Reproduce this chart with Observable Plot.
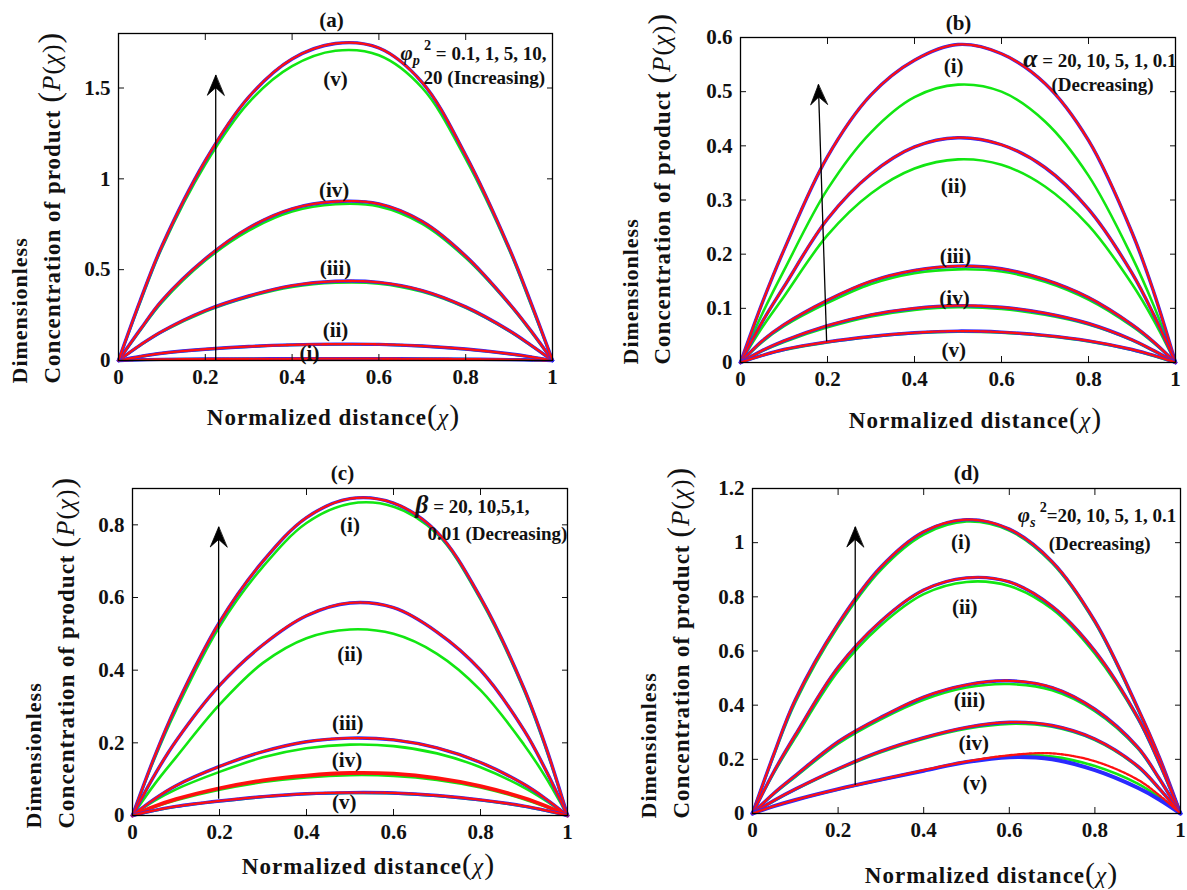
<!DOCTYPE html>
<html><head><meta charset="utf-8">
<script src="https://cdn.jsdelivr.net/npm/d3@7"></script>
<script src="https://cdn.jsdelivr.net/npm/@observablehq/plot@0.6"></script>
<style>
body{margin:0;background:#fff;}
#root{position:relative;width:1187px;height:890px;overflow:hidden;background:#fff;}
#root svg{position:absolute;overflow:visible;}
</style></head><body><div id="root"></div>
<script>
// ---------- shared data ----------
const xs = [0, 0.05, 0.1, 0.2, 0.3, 0.4, 0.5, 0.6, 0.7, 0.8, 0.9, 0.95, 1];
const romanLabels = ["(i)", "(ii)", "(iii)", "(iv)", "(v)"];
const xTicks = [0, 0.2, 0.4, 0.6, 0.8, 1];

// ---------- panel (a) ----------
const aTicksY = [0, 0.5, 1, 1.5];
const a1Num = [0, 0.004, 0.006, 0.008, 0.009, 0.0095, 0.01, 0.0098, 0.009, 0.0075, 0.005, 0.003, 0];
const a1Ana = [0, 0.004, 0.006, 0.008, 0.009, 0.0095, 0.0098, 0.0096, 0.0088, 0.0074, 0.005, 0.003, 0];
const a2Num = [0, 0.022, 0.04, 0.062, 0.077, 0.086, 0.09, 0.089, 0.08, 0.063, 0.037, 0.02, 0];
const a2Ana = [0, 0.021, 0.039, 0.061, 0.076, 0.085, 0.089, 0.088, 0.079, 0.062, 0.036, 0.019, 0];
const a3Num = [0, 0.085, 0.16, 0.275, 0.355, 0.412, 0.436, 0.43, 0.385, 0.295, 0.165, 0.085, 0];
const a3Ana = [0, 0.083, 0.157, 0.27, 0.35, 0.405, 0.428, 0.423, 0.378, 0.29, 0.162, 0.083, 0];
const a4Num = [0, 0.17, 0.33, 0.56, 0.73, 0.835, 0.875, 0.862, 0.765, 0.575, 0.315, 0.165, 0];
const a4Ana = [0, 0.165, 0.32, 0.55, 0.715, 0.82, 0.86, 0.848, 0.752, 0.565, 0.31, 0.16, 0];
const a5Num = [0, 0.33, 0.63, 1.10, 1.45, 1.66, 1.745, 1.72, 1.53, 1.13, 0.62, 0.32, 0];
const a5Ana = [0, 0.32, 0.62, 1.08, 1.42, 1.62, 1.705, 1.68, 1.50, 1.11, 0.61, 0.31, 0];
const aLabelX = [0.44, 0.5, 0.5, 0.497, 0.5];
const aLabelY = [0.038, 0.165, 0.51, 0.935, 1.55];
const aArrowX = [0.224, 0.224];
const aArrowY = [0, 1.57];
const aNote = ["φp2 = 0.1, 1, 5, 10,", "20 (Increasing)"];
const aNoteX = [0.65, 0.703];
const aNoteY = [1.69, 1.557];

// ---------- panel (b) ----------
const bTicksY = [0, 0.1, 0.2, 0.3, 0.4, 0.5, 0.6];
const b1Num = [0, 0.11, 0.208, 0.38, 0.494, 0.558, 0.587, 0.57, 0.515, 0.41, 0.24, 0.13, 0];
const b1Ana = [0, 0.09, 0.17, 0.32, 0.425, 0.49, 0.513, 0.5, 0.445, 0.345, 0.195, 0.105, 0];
const b2Num = [0, 0.075, 0.14, 0.265, 0.348, 0.398, 0.415, 0.402, 0.36, 0.283, 0.165, 0.088, 0];
const b2Ana = [0, 0.065, 0.122, 0.235, 0.312, 0.358, 0.375, 0.365, 0.325, 0.253, 0.145, 0.078, 0];
const b3Num = [0, 0.04, 0.07, 0.115, 0.15, 0.17, 0.178, 0.173, 0.153, 0.12, 0.07, 0.038, 0];
const b3Ana = [0, 0.038, 0.067, 0.11, 0.145, 0.165, 0.172, 0.168, 0.149, 0.116, 0.067, 0.036, 0];
const b4Num = [0, 0.022, 0.04, 0.068, 0.088, 0.1, 0.105, 0.102, 0.091, 0.072, 0.042, 0.022, 0];
const b4Ana = [0, 0.021, 0.038, 0.065, 0.085, 0.097, 0.102, 0.099, 0.088, 0.07, 0.041, 0.021, 0];
const b5Num = [0, 0.013, 0.024, 0.038, 0.048, 0.055, 0.058, 0.056, 0.05, 0.04, 0.024, 0.013, 0];
const b5Ana = [0, 0.013, 0.023, 0.037, 0.047, 0.054, 0.057, 0.055, 0.049, 0.039, 0.023, 0.012, 0];
const bLabelX = [0.49, 0.49, 0.494, 0.492, 0.49];
const bLabelY = [0.546, 0.325, 0.196, 0.119, 0.023];
const bArrowX = [0.198, 0.179];
const bArrowY = [0.039, 0.513];
const bNote = ["α = 20, 10, 5, 1, 0.1", "(Decreasing)"];
const bNoteX = [0.65, 0.715];
const bNoteY = [0.556, 0.512];

// ---------- panel (c) ----------
const cTicksY = [0, 0.2, 0.4, 0.6, 0.8];
const c1Num = [0, 0.16, 0.30, 0.532, 0.70, 0.82, 0.872, 0.86, 0.78, 0.60, 0.35, 0.19, 0];
const c1Ana = [0, 0.155, 0.29, 0.52, 0.685, 0.805, 0.858, 0.85, 0.775, 0.595, 0.345, 0.185, 0];
const c2Num = [0, 0.11, 0.205, 0.358, 0.47, 0.55, 0.585, 0.572, 0.505, 0.40, 0.235, 0.125, 0];
const c2Ana = [0, 0.085, 0.16, 0.305, 0.42, 0.488, 0.512, 0.5, 0.445, 0.345, 0.195, 0.105, 0];
const c3Num = [0, 0.045, 0.082, 0.135, 0.176, 0.203, 0.213, 0.208, 0.186, 0.146, 0.086, 0.046, 0];
const c3Ana = [0, 0.04, 0.072, 0.12, 0.16, 0.185, 0.195, 0.191, 0.171, 0.133, 0.077, 0.041, 0];
const c4Num = [0, 0.025, 0.045, 0.075, 0.097, 0.11, 0.117, 0.115, 0.103, 0.081, 0.048, 0.026, 0];
const c4Ana = [0, 0.023, 0.042, 0.071, 0.092, 0.105, 0.111, 0.109, 0.098, 0.077, 0.045, 0.024, 0];
const c5Num = [0, 0.014, 0.025, 0.04, 0.052, 0.06, 0.063, 0.062, 0.055, 0.043, 0.026, 0.014, 0];
const c5Ana = [0, 0.013, 0.024, 0.039, 0.051, 0.059, 0.062, 0.061, 0.054, 0.042, 0.025, 0.013, 0];
const cLabelX = [0.5, 0.5, 0.495, 0.493, 0.487];
const cLabelY = [0.8, 0.445, 0.254, 0.153, 0.037];
const cArrowX = [0.198, 0.198];
const cArrowY = [0.046, 0.794];
const cNote = ["β = 20, 10,5,1,", "0.01 (Decreasing)"];
const cNoteX = [0.65, 0.678];
const cNoteY = [0.848, 0.776];

// ---------- panel (d) ----------
const dTicksY = [0, 0.2, 0.4, 0.6, 0.8, 1, 1.2];
const d1Num = [0, 0.22, 0.42, 0.70, 0.91, 1.04, 1.085, 1.05, 0.93, 0.71, 0.39, 0.21, 0];
const d1Ana = [0, 0.215, 0.41, 0.69, 0.90, 1.03, 1.078, 1.045, 0.925, 0.705, 0.385, 0.205, 0];
const d2Num = [0, 0.155, 0.29, 0.54, 0.71, 0.825, 0.87, 0.855, 0.765, 0.6, 0.355, 0.19, 0];
const d2Ana = [0, 0.15, 0.28, 0.525, 0.695, 0.81, 0.855, 0.84, 0.755, 0.59, 0.35, 0.185, 0];
const d3Num = [0, 0.075, 0.14, 0.265, 0.355, 0.43, 0.475, 0.49, 0.465, 0.385, 0.245, 0.13, 0];
const d3Ana = [0, 0.072, 0.135, 0.258, 0.348, 0.42, 0.465, 0.478, 0.455, 0.378, 0.24, 0.127, 0];
const d4Num = [0, 0.048, 0.09, 0.165, 0.23, 0.28, 0.318, 0.337, 0.325, 0.275, 0.175, 0.093, 0];
const d4Ana = [0, 0.046, 0.088, 0.162, 0.226, 0.276, 0.313, 0.331, 0.32, 0.271, 0.172, 0.091, 0];
const d5Num = [0, 0.027, 0.05, 0.09, 0.125, 0.16, 0.192, 0.215, 0.222, 0.193, 0.125, 0.068, 0];
const d5Blue = [0, 0.027, 0.05, 0.09, 0.125, 0.158, 0.19, 0.208, 0.2, 0.16, 0.095, 0.052, 0];
const d5Ana = [0, 0.027, 0.05, 0.089, 0.124, 0.158, 0.19, 0.212, 0.21, 0.175, 0.11, 0.06, 0];
const dLabelX = [0.487, 0.496, 0.507, 0.517, 0.52];
const dLabelY = [1.003, 0.763, 0.418, 0.258, 0.11];
const dArrowX = [0.24, 0.24];
const dArrowY = [0.105, 1.058];
const dNote = ["φs2=20, 10, 5, 1, 0.1", "(Decreasing)"];
const dNoteX = [0.62, 0.692];
const dNoteY = [1.10, 0.997];

const xTitle = "Normalized distance(χ)";
const yTitle1 = "Dimensionless";
const yTitle2 = "Concentration of product (P(χ))";

// ---------- layout ----------
const panels = [
  {title: "(a)", left: 0, top: 0, width: 600, height: 440, mL: 118, mR: 48, mT: 33, mB: 80, yMax: 1.8, yTicks: aTicksY,
   curves: [{num: a1Num, ana: a1Ana}, {num: a2Num, ana: a2Ana}, {num: a3Num, ana: a3Ana}, {num: a4Num, ana: a4Ana}, {num: a5Num, ana: a5Ana}],
   labelX: aLabelX, labelY: aLabelY, arrowX: aArrowX, arrowY: aArrowY, note: aNote, noteX: aNoteX, noteY: aNoteY,
   titlePos: [331, 20], xTitlePos: [333, 417], yTitlePos: [19, 52, 383]},
  {title: "(b)", left: 600, top: 0, width: 587, height: 440, mL: 140, mR: 12, mT: 37, mB: 78, yMax: 0.6, yTicks: bTicksY,
   curves: [{num: b1Num, ana: b1Ana}, {num: b2Num, ana: b2Ana}, {num: b3Num, ana: b3Ana}, {num: b4Num, ana: b4Ana}, {num: b5Num, ana: b5Ana}],
   labelX: bLabelX, labelY: bLabelY, arrowX: bArrowX, arrowY: bArrowY, note: bNote, noteX: bNoteX, noteY: bNoteY,
   titlePos: [958, 23], xTitlePos: [975, 420], yTitlePos: [630, 662, 364]},
  {title: "(c)", left: 0, top: 445, width: 600, height: 445, mL: 132, mR: 33, mT: 43, mB: 75, yMax: 0.9, yTicks: cTicksY,
   curves: [{num: c1Num, ana: c1Ana}, {num: c2Num, ana: c2Ana}, {num: c3Num, ana: c3Ana}, {num: c4Num, ana: c4Ana, redOnly: true}, {num: c5Num, ana: c5Ana}],
   labelX: cLabelX, labelY: cLabelY, arrowX: cArrowX, arrowY: cArrowY, note: cNote, noteX: cNoteX, noteY: cNoteY,
   titlePos: [342, 473], xTitlePos: [368, 866], yTitlePos: [33, 66, 828]},
  {title: "(d)", left: 600, top: 445, width: 587, height: 445, mL: 152, mR: 7, mT: 43, mB: 77, yMax: 1.2, yTicks: dTicksY,
   curves: [{num: d1Num, ana: d1Ana}, {num: d2Num, ana: d2Ana}, {num: d3Num, ana: d3Ana}, {num: d4Num, ana: d4Ana}, {num: d5Num, ana: d5Ana, blue: d5Blue}],
   labelX: dLabelX, labelY: dLabelY, arrowX: dArrowX, arrowY: dArrowY, note: dNote, noteX: dNoteX, noteY: dNoteY,
   titlePos: [966, 473], xTitlePos: [991, 875], yTitlePos: [648, 681, 818]}
];

const GREEN = "#12e612", RED = "#ff1010", BLUE = "#2a2aff", INK = "#111";
const fmt = d => String(+d.toFixed(2));
const toRows = arr => xs.map((x, i) => ({x, y: arr[i]}));
const headShape = {draw(ctx, l) { const w = l * 0.42; ctx.moveTo(0, 0); ctx.lineTo(-w, l); ctx.lineTo(0, l * 0.62); ctx.lineTo(w, l); ctx.closePath(); }};

const N = 'font-weight="normal"';
const rich = {
  [xTitle]: {html: `Normalized distance<tspan ${N} font-size="1.3em">(</tspan><tspan ${N} font-style="italic">χ</tspan><tspan ${N} font-size="1.3em">)</tspan>`, ls: "1px"},
  [yTitle1]: {html: "Dimensionless", ls: "1px"},
  [yTitle2]: {html: `Concentration of product <tspan ${N} font-size="1.4em">(</tspan><tspan ${N} font-style="italic" font-size="1.1em">P</tspan><tspan ${N} font-size="1.1em">(</tspan><tspan ${N} font-style="italic" font-size="1.1em">χ</tspan><tspan ${N} font-size="1.1em">)</tspan><tspan ${N} font-size="1.4em">)</tspan>`, ls: "1px"},
  [aNote[0]]: {html: `<tspan font-style="italic" font-size="1.1em">φ</tspan><tspan font-style="italic" font-size="0.75em" dy="5">p</tspan><tspan font-size="0.75em" dy="-15" dx="4">2</tspan><tspan dy="10"> = 0.1, 1, 5, 10,</tspan>`},
  [bNote[0]]: {html: `<tspan font-style="italic" font-size="1.35em">α</tspan> = 20, 10, 5, 1, 0.1`},
  [cNote[0]]: {html: `<tspan font-style="italic" font-size="1.35em">β</tspan> = 20, 10,5,1,`},
  [dNote[0]]: {html: `<tspan font-style="italic" font-size="1.1em">φ</tspan><tspan font-style="italic" font-size="0.75em" dy="5">s</tspan><tspan font-size="0.75em" dy="-15" dx="4">2</tspan><tspan dy="10">=20, 10, 5, 1, 0.1</tspan>`}
};

function makePanel(p) {
  const fw = p.width - p.mL - p.mR, fh = p.height - p.mT - p.mB;
  const fL = p.left + p.mL, fB = p.top + p.height - p.mB, fT = p.top + p.mT, fCx = fL + fw / 2;
  const marks = [];
  const curve = "catmull-rom";
  p.curves.forEach(c => marks.push(Plot.line(toRows(c.ana), {x: "x", y: "y", stroke: GREEN, strokeWidth: 2.6, curve})));
  p.curves.forEach(c => {
    if (c.redOnly) {
      marks.push(Plot.line(toRows(c.num), {x: "x", y: "y", stroke: RED, strokeWidth: 3.8, curve}));
    } else {
      marks.push(Plot.line(toRows(c.blue || c.num), {x: "x", y: "y", stroke: BLUE, strokeWidth: c.blue ? 4 : 3.4, curve}));
      marks.push(Plot.line(toRows(c.num), {x: "x", y: "y", stroke: RED, strokeWidth: 2.3, strokeDasharray: "2.6,1.4", curve}));
    }
  });
  // arrow
  const arrowRow = [{x1: p.arrowX[0], y1: p.arrowY[0], x2: p.arrowX[1], y2: p.arrowY[1]}];
  const ang = Math.atan2((p.arrowX[1] - p.arrowX[0]) * fw, (p.arrowY[1] - p.arrowY[0]) / p.yMax * fh) * 180 / Math.PI;
  marks.push(Plot.link(arrowRow, {x1: "x1", y1: "y1", x2: "x2", y2: "y2", stroke: "#000", strokeWidth: 1.3}));
  marks.push(Plot.vector(arrowRow, {x: "x2", y: "y2", length: 20, rotate: ang, anchor: "start", shape: headShape, fill: "#000", stroke: "#000", strokeWidth: 0.8}));
  // curve labels
  marks.push(Plot.text(romanLabels, {x: (d, i) => p.labelX[i], y: (d, i) => p.labelY[i], text: d => d, fontSize: 21, fill: INK}));
  // annotation
  marks.push(Plot.text(p.note, {x: (d, i) => p.noteX[i], y: (d, i) => p.noteY[i], text: d => d, textAnchor: "start", fontSize: 19, fill: INK}));
  // axes & frame
  marks.push(Plot.axisX({ticks: xTicks, tickSize: -6, tickPadding: 15, tickFormat: fmt, label: null, fill: INK, fontSize: 21}));
  marks.push(Plot.axisX({anchor: "top", ticks: xTicks, tickSize: -6, tickFormat: () => "", label: null}));
  marks.push(Plot.axisY({ticks: p.yTicks, tickSize: -6, tickPadding: 14, tickFormat: fmt, label: null, fill: INK, fontSize: 21}));
  marks.push(Plot.axisY({anchor: "right", ticks: p.yTicks, tickSize: -6, tickFormat: () => "", label: null}));
  marks.push(Plot.frame({stroke: "#000", strokeWidth: 1.3}));
  // titles
  marks.push(Plot.text([p.title], {text: d => d, frameAnchor: "top", dx: p.titlePos[0] - fCx, dy: p.titlePos[1] - fT, lineAnchor: "middle", fontSize: 21, fill: INK}));
  marks.push(Plot.text([xTitle], {text: d => d, frameAnchor: "bottom", dx: p.xTitlePos[0] - fCx, dy: p.xTitlePos[1] - fB, lineAnchor: "middle", fontSize: 23, fill: INK}));
  marks.push(Plot.text([yTitle1], {text: d => d, frameAnchor: "bottom-left", rotate: -90, textAnchor: "start", lineAnchor: "middle", dx: p.yTitlePos[0] - fL, dy: p.yTitlePos[2] - fB, fontSize: 22, fill: INK}));
  marks.push(Plot.text([yTitle2], {text: d => d, frameAnchor: "bottom-left", rotate: -90, textAnchor: "start", lineAnchor: "middle", dx: p.yTitlePos[1] - fL, dy: p.yTitlePos[2] - fB, fontSize: 23, fill: INK}));

  const svg = Plot.plot({
    width: p.width, height: p.height,
    marginLeft: p.mL, marginRight: p.mR, marginTop: p.mT, marginBottom: p.mB,
    x: {domain: [0, 1]}, y: {domain: [0, p.yMax]},
    style: {fontFamily: "'Liberation Serif', 'Times New Roman', serif", fontSize: "20px", fontWeight: "bold", color: INK, background: "transparent", overflow: "visible"},
    marks
  });
  svg.style.left = p.left + "px";
  svg.style.top = p.top + "px";
  svg.querySelectorAll("text").forEach(t => {
    const r = rich[t.textContent];
    if (r) { t.innerHTML = r.html; if (r.ls) t.setAttribute("letter-spacing", r.ls); }
  });
  return svg;
}

const root = document.getElementById("root");
panels.forEach(p => root.appendChild(makePanel(p)));
</script>
</body></html>
